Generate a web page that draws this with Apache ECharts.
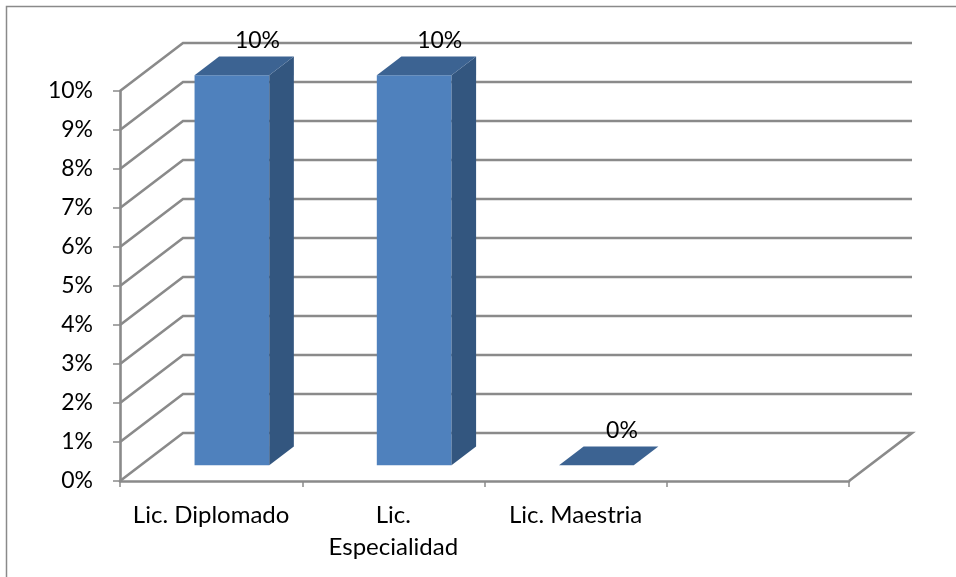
<!DOCTYPE html>
<html>
<head>
<meta charset="utf-8">
<script src="https://cdn.jsdelivr.net/npm/echarts@6/dist/echarts.min.js"></script>
<style>
  html, body { margin: 0; padding: 0; background: #ffffff; }
  #chart { width: 956px; height: 577px; }
</style>
</head>
<body>
<div id="chart"></div>
<script>
// Categories along the floor (last slot is intentionally empty)
const categories = ['Lic. Diplomado', 'Lic.\nEspecialidad', 'Lic. Maestria', ''];
// Percentage per category
const percentages = [10, 10, 0];
// Gridline levels on the walls
const yTicks = [0, 1, 2, 3, 4, 5, 6, 7, 8, 9, 10];

// Pseudo-3D projection: full floor depth as a screen vector
const DEPTH = [63, -48];
const BAR_FRONT = 0.33;
const BAR_BACK = 0.72;
const BAR_WIDTH_RATIO = 0.41;
const FONT_FAMILY = 'Lato';
const GRID_COLOR = '#8a8a8a';

const chart = echarts.init(document.getElementById('chart'));

// Side wall diagonals + back wall gridlines (and floor outline at level 0)
function renderWall(params, api) {
  const v = api.value(1);
  const band = api.size([1, 0])[0];
  const first = api.coord([0, v]);
  const last = api.coord([categories.length - 1, v]);
  const x0 = first[0] - band / 2;
  const x1 = last[0] + band / 2;
  const y = first[1];
  const pts = [[x0, y], [x0 + DEPTH[0], y + DEPTH[1]], [x1 + DEPTH[0], y + DEPTH[1]]];
  if (v === 0) pts.push([x1, y]);
  return {
    type: 'polyline',
    silent: true,
    shape: { points: pts },
    style: { stroke: GRID_COLOR, lineWidth: 2.6, fill: null }
  };
}

// Box-shaped bars: front face, right side, top, and value label
function renderBar(params, api) {
  const i = api.value(0);
  const v = api.value(1);
  const band = api.size([1, 0])[0];
  const base = api.coord([i, 0]);
  const top = api.coord([i, v]);
  const w = band * BAR_WIDTH_RATIO;
  const fx = DEPTH[0] * BAR_FRONT, fy = DEPTH[1] * BAR_FRONT;
  const dx = DEPTH[0] * (BAR_BACK - BAR_FRONT), dy = DEPTH[1] * (BAR_BACK - BAR_FRONT);
  const xl = base[0] - w / 2 + fx, xr = xl + w;
  const yb = base[1] + fy, yt = top[1] + fy;
  const children = [];
  if (yb - yt > 0.5) {
    children.push({
      type: 'rect',
      shape: { x: xl, y: yt, width: w, height: yb - yt },
      style: { fill: '#4f81bd' }
    });
    children.push({
      type: 'polygon',
      shape: { points: [[xr, yt], [xr + dx, yt + dy], [xr + dx, yb + dy], [xr, yb]] },
      style: { fill: '#33567f' }
    });
  }
  children.push({
    type: 'polygon',
    shape: { points: [[xl, yt], [xl + dx, yt + dy], [xr + dx, yt + dy], [xr, yt]] },
    style: { fill: '#3c6392' }
  });
  children.push({
    type: 'text',
    style: {
      text: v + '%',
      x: (xl + xr) / 2 + dx + 1,
      y: yt + dy - 16,
      align: 'center',
      verticalAlign: 'middle',
      font: '23px ' + FONT_FAMILY,
      fill: '#000000'
    }
  });
  return { type: 'group', children: children };
}

const option = {
  backgroundColor: '#ffffff',
  animation: false,
  graphic: [{
    type: 'rect',
    silent: true,
    shape: { x: 6.5, y: 6.5, width: 1000, height: 1000 },
    style: { fill: null, stroke: '#8a8a8a', lineWidth: 1.5 }
  }],
  grid: { left: 120, right: 107, top: 91, bottom: 96 },
  xAxis: {
    type: 'category',
    data: categories,
    boundaryGap: true,
    axisLine: { show: true, lineStyle: { color: GRID_COLOR, width: 2.6 } },
    axisTick: { show: true, length: 6, lineStyle: { color: GRID_COLOR, width: 1.5 } },
    axisLabel: {
      interval: 0,
      margin: 18,
      color: '#000000',
      fontFamily: FONT_FAMILY,
      fontSize: 24,
      lineHeight: 32
    },
    splitLine: { show: false }
  },
  yAxis: {
    type: 'value',
    min: 0,
    max: 10,
    interval: 1,
    axisLine: { show: true, lineStyle: { color: GRID_COLOR, width: 2.6 } },
    axisTick: { show: true, length: 7, lineStyle: { color: GRID_COLOR, width: 1.5 } },
    axisLabel: {
      formatter: '{value}%',
      margin: 27,
      color: '#000000',
      fontFamily: FONT_FAMILY,
      fontSize: 23
    },
    splitLine: { show: false }
  },
  series: [
    {
      type: 'custom',
      name: 'walls',
      silent: true,
      z: 1,
      renderItem: renderWall,
      encode: { x: 0, y: 1 },
      data: yTicks.map(function (t) { return [0, t]; })
    },
    {
      type: 'custom',
      name: 'valores',
      z: 5,
      renderItem: renderBar,
      encode: { x: 0, y: 1 },
      data: percentages.map(function (p, i) { return [i, p]; })
    }
  ]
};

chart.setOption(option);
</script>
</body>
</html>
